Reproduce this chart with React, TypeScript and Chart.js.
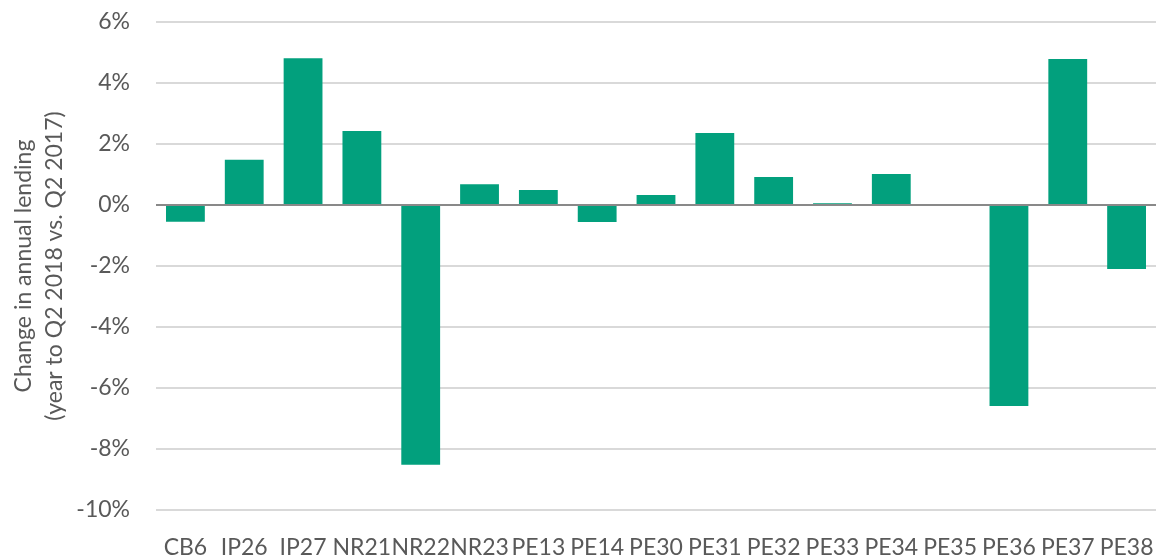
import React, { useEffect, useRef } from "react";
import { Chart, registerables } from "chart.js";

Chart.register(...registerables);

const categories = ["CB6", "IP26", "IP27", "NR21", "NR22", "NR23", "PE13", "PE14", "PE30", "PE31", "PE32", "PE33", "PE34", "PE35", "PE36", "PE37", "PE38"];
const lendingChange = [-0.55, 1.48, 4.81, 2.43, -8.52, 0.68, 0.49, -0.56, 0.33, 2.36, 0.92, 0.06, 1.02, 0, -6.59, 4.79, -2.1];
const yMin = -10;
const yMax = 6;
const yStep = 2;
const yTitle = ["Change in annual lending", "(year to Q2 2018 vs. Q2 2017)"];

const TEXT = "#595959";
const FONT = "Lato";
const FS = 23;

export default function App() {
  const ref = useRef<HTMLCanvasElement>(null);
  useEffect(() => {
    const zeroLine = {
      id: "zeroLine",
      afterDatasetsDraw(chart: any) {
        const y = chart.scales.y.getPixelForValue(0);
        const { left, right } = chart.chartArea;
        const c = chart.ctx;
        c.save();
        c.strokeStyle = "#898989";
        c.lineWidth = 2;
        c.beginPath();
        c.moveTo(left, y);
        c.lineTo(right, y);
        c.stroke();
        c.restore();
      },
    };
    const chart = new Chart(ref.current!, {
      type: "bar",
      data: {
        labels: categories,
        datasets: [
          {
            data: lendingChange,
            backgroundColor: "#02A07D",
            categoryPercentage: 1,
            barPercentage: 0.66,
          },
        ],
      },
      options: {
        animation: false,
        responsive: false,
        maintainAspectRatio: false,
        layout: { padding: { top: 22, right: 2, left: 0, bottom: 0 } },
        plugins: { legend: { display: false }, tooltip: { enabled: false } },
        scales: {
          x: {
            grid: { display: false },
            border: { display: false },
            ticks: {
              color: TEXT,
              font: { family: FONT, size: FS },
              padding: 16,
              maxRotation: 0,
              autoSkip: false,
            },
            afterFit: (s: any) => {
              s.height = 46;
              s.paddingLeft = 0;
              s.paddingRight = 0;
              s.paddingTop = 0;
              s.paddingBottom = 0;
            },
          },
          y: {
            min: yMin,
            max: yMax,
            border: { display: false },
            grid: {
              color: (ctx: any) => (ctx.tick && ctx.tick.value === 0 ? "rgba(0,0,0,0)" : "#D9D9D9"),
              lineWidth: 2,
              drawTicks: false,
            },
            ticks: {
              stepSize: yStep,
              color: TEXT,
              font: { family: FONT, size: FS },
              padding: 26,
              callback: (v: any) => v + "%",
            },
            title: {
              display: true,
              text: yTitle,
              color: TEXT,
              font: { family: FONT, size: FS, lineHeight: 1.36 },
              padding: { top: 8, bottom: 0 },
            },
            afterFit: (s: any) => {
              s.width = 156;
              s.paddingLeft = 0;
              s.paddingRight = 0;
              s.paddingTop = 0;
              s.paddingBottom = 0;
            },
          },
        },
      },
      plugins: [zeroLine],
    } as any);
    return () => chart.destroy();
  }, []);
  return (
    <div style={{ position: "absolute", left: 0, top: 0, width: 1158, height: 556, background: "#fff" }}>
      <canvas ref={ref} width={1158} height={556} style={{ display: "block" }} />
    </div>
  );
}
